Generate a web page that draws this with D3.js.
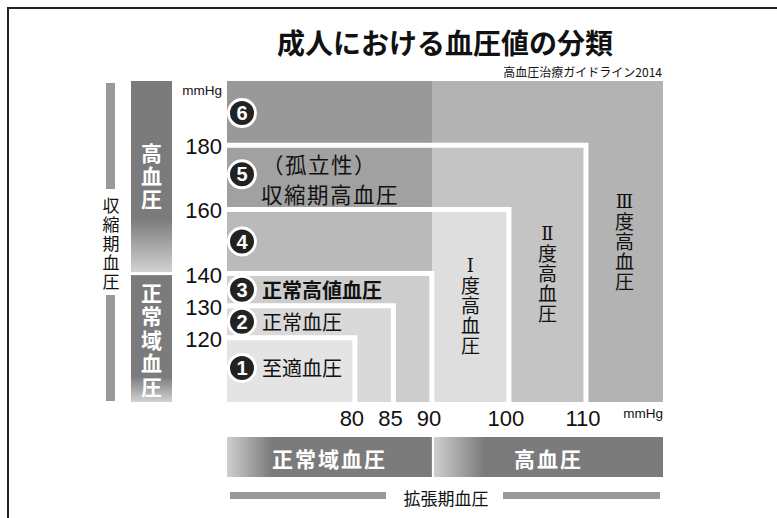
<!DOCTYPE html>
<html>
<head>
<meta charset="utf-8">
<script src="https://cdn.jsdelivr.net/npm/d3@7"></script>
<style>
  body { margin: 0; background: #fff; }
  text { font-family: "Noto Sans CJK JP", "Noto Sans", sans-serif; }
  .num { font-family: "Liberation Sans", Arial, sans-serif; }
  .roman { font-family: "DejaVu Serif", "Liberation Serif", serif; }
  .vert { writing-mode: vertical-rl; text-orientation: upright; }
</style>
</head>
<body>
<script>
// systolic / diastolic tick values (mmHg)
var sysTicks = [120, 130, 140, 160, 180];
var diaTicks = [80, 85, 90, 100, 110];

// nested grade boxes: upper systolic bound, upper diastolic bound
var gradeIds = ["III", "II", "I", "c3", "c2", "c1"];
var gradeSys = [200, 180, 160, 140, 130, 120];
var gradeDia = [120, 110, 100, 90, 85, 80];

// isolated systolic hypertension bands (diastolic < 90)
var isoIds = ["c6", "c5", "c4"];
var isoSysLow = [180, 160, 140];
var isoSysHigh = [200, 180, 160];
var isoDiaMax = 90;

// numbered categories: circle number, systolic band
var catNums = [1, 2, 3, 4, 5, 6];
var catSysLow = [100, 120, 130, 140, 160, 180];
var catSysHigh = [120, 130, 140, 160, 180, 200];
var catNames = ["至適血圧", "正常血圧", "正常高値血圧", "", "（孤立性）|収縮期高血圧", ""];

// vertical column labels for grades I..III
var colRoman = ["Ⅰ", "Ⅱ", "Ⅲ"];
var colNames = ["度高血圧", "度高血圧", "度高血圧"];
var colDiaLow = [90, 100, 110];
var colDiaHigh = [100, 110, 120];
var colSysLow = [160, 180, 200];

var fills = {
  III: "#b3b3b3", II: "#c4c4c4", I: "#dedede",
  c6: "#999999", c5: "#a1a1a1", c4: "#bababa",
  c3: "#cdcdcd", c2: "#d9d9d9", c1: "#e4e4e4"
};

var W = 777, H = 518;
var svg = d3.select("body").append("svg")
  .attr("width", W).attr("height", H);

// frame
svg.append("path").attr("d", "M8,518 V8 H777")
  .attr("fill", "none").attr("stroke", "#222").attr("stroke-width", 2);

var x = d3.scaleLinear().domain([63.4, 120]).range([227, 663]);
var y = d3.scaleLinear().domain([100, 200]).range([402, 81]);

var defs = svg.append("defs");
function grad(id, x1, y1, x2, y2, stops) {
  var g = defs.append("linearGradient").attr("id", id)
    .attr("x1", x1).attr("y1", y1).attr("x2", x2).attr("y2", y2);
  stops.forEach(function (s) {
    g.append("stop").attr("offset", s[0]).attr("stop-color", s[1]);
  });
}
grad("gHigh", 0, 0, 0, 1, [[0, "#7b7b7b"], [0.72, "#7b7b7b"], [1, "#d2d2d2"]]);
grad("gNorm", 0, 0, 0, 1, [[0, "#7b7b7b"], [0.8, "#7b7b7b"], [1, "#d2d2d2"]]);
grad("gLeft", 0, 0, 1, 0, [[0, "#cfcfcf"], [0.22, "#7b7b7b"], [1, "#7b7b7b"]]);

// title
svg.append("text").attr("x", 445).attr("y", 54).attr("text-anchor", "middle")
  .attr("font-size", 28).attr("font-weight", 700).attr("fill", "#111")
  .text("成人における血圧値の分類");
svg.append("text").attr("x", 662).attr("y", 77).attr("text-anchor", "end")
  .attr("font-size", 12).attr("fill", "#111")
  .text("高血圧治療ガイドライン2014");

var plot = svg.append("g");

// grade fills (largest first)
plot.selectAll("rect.grade").data(gradeIds.slice(0, 3)).enter().append("rect")
  .attr("x", x.range()[0])
  .attr("y", function (d, i) { return y(gradeSys[i]); })
  .attr("width", function (d, i) { return x(gradeDia[i]) - x.range()[0]; })
  .attr("height", function (d, i) { return y(100) - y(gradeSys[i]); })
  .attr("fill", function (d) { return fills[d]; });

plot.selectAll("rect.iso").data(isoIds).enter().append("rect")
  .attr("x", x.range()[0])
  .attr("y", function (d, i) { return y(isoSysHigh[i]); })
  .attr("width", x(isoDiaMax) - x.range()[0])
  .attr("height", function (d, i) { return y(isoSysLow[i]) - y(isoSysHigh[i]); })
  .attr("fill", function (d) { return fills[d]; });

plot.selectAll("rect.norm").data(gradeIds.slice(3)).enter().append("rect")
  .attr("x", x.range()[0])
  .attr("y", function (d, i) { return y(gradeSys[i + 3]); })
  .attr("width", function (d, i) { return x(gradeDia[i + 3]) - x.range()[0]; })
  .attr("height", function (d, i) { return y(100) - y(gradeSys[i + 3]); })
  .attr("fill", function (d) { return fills[d]; });

// white borders (top + right) of nested boxes
plot.selectAll("path.edge").data(gradeIds.slice(1)).enter().append("path")
  .attr("d", function (d, i) {
    var s = gradeSys[i + 1], v = gradeDia[i + 1];
    return "M" + x.range()[0] + "," + y(s) + "H" + x(v) + "V" + y(100);
  })
  .attr("fill", "none").attr("stroke", "#fff").attr("stroke-width", 5)
  .attr("stroke-linejoin", "miter");

// vertical text helper (one text element, top-to-bottom)
function vText(sel, txt, cx, cy, size, spacing, color, weight, roman) {
  var t = sel.append("text").attr("class", "vert")
    .attr("x", cx).attr("y", cy)
    .attr("text-anchor", "middle")
    .attr("font-size", size).attr("font-weight", weight || 400)
    .attr("letter-spacing", spacing).attr("fill", color);
  if (roman) t.append("tspan").attr("class", "roman").attr("font-size", size - 1).text(roman);
  t.append("tspan").text(txt);
  return t;
}

// vertical grade labels
colNames.forEach(function (name, i) {
  var cx = (x(colDiaLow[i]) + x(colDiaHigh[i])) / 2;
  var cy = (y(colSysLow[i]) + y(100)) / 2;
  vText(plot, name, cx, cy, 19, 1, "#111", 400, colRoman[i]);
});

// numbered circles and labels
var circX = 242;
catNums.forEach(function (n, i) {
  var cy = (y(catSysLow[i]) + y(catSysHigh[i])) / 2;
  if (n === 5) cy -= 3;
  if (n === 1) cy -= 2;
  var g = plot.append("g");
  g.append("circle").attr("cx", circX).attr("cy", cy).attr("r", 13.5)
    .attr("fill", "#222").attr("stroke", "#fff").attr("stroke-width", 3);
  g.append("text").attr("class", "num").attr("x", circX).attr("y", cy + 7)
    .attr("text-anchor", "middle").attr("font-size", 20).attr("font-weight", 700)
    .attr("fill", "#fff").text(n);
  var name = catNames[i];
  if (!name) return;
  if (name.indexOf("|") >= 0) {
    var parts = name.split("|");
    g.append("text").attr("x", 262).attr("y", cy - 11).attr("dominant-baseline", "central")
      .attr("font-size", 21.5).attr("letter-spacing", 1.5).attr("fill", "#111").text(parts[0]);
    g.append("text").attr("x", 261).attr("y", cy + 19).attr("dominant-baseline", "central")
      .attr("font-size", 21.5).attr("letter-spacing", 1.5).attr("fill", "#111").text(parts[1]);
  } else {
    g.append("text").attr("x", 262).attr("y", cy).attr("dominant-baseline", "central")
      .attr("font-size", 20).attr("font-weight", n === 3 ? 700 : 400)
      .attr("fill", "#111").text(name);
  }
});

// y axis tick labels
svg.selectAll("text.ytick").data(sysTicks).enter().append("text")
  .attr("class", "num").attr("x", 222).attr("y", function (d) { return y(d) + 9; })
  .attr("text-anchor", "end").attr("font-size", 22).attr("fill", "#111")
  .text(function (d) { return d; });
svg.append("text").attr("class", "num").attr("x", 222).attr("y", 95)
  .attr("text-anchor", "end").attr("font-size", 13.5).attr("fill", "#111").text("mmHg");

// x axis tick labels
svg.selectAll("text.xtick").data(diaTicks).enter().append("text")
  .attr("class", "num").attr("x", function (d) { return x(d) - 3; }).attr("y", 426)
  .attr("text-anchor", "middle").attr("font-size", 22).attr("fill", "#111")
  .text(function (d) { return d; });
svg.append("text").attr("class", "num").attr("x", 663).attr("y", 418)
  .attr("text-anchor", "end").attr("font-size", 13.5).attr("fill", "#111").text("mmHg");

// left category bars
var barX0 = 131, barX1 = 172;
svg.append("rect").attr("x", barX0).attr("y", y(200))
  .attr("width", barX1 - barX0).attr("height", y(140) - 1.5 - y(200)).attr("fill", "url(#gHigh)");
svg.append("rect").attr("x", barX0).attr("y", y(140) + 1.5)
  .attr("width", barX1 - barX0).attr("height", y(100) - y(140) - 1.5).attr("fill", "url(#gNorm)");
vText(svg, "高血圧", (barX0 + barX1) / 2, 177, 21, 2, "#fff", 700);
vText(svg, "正常域血圧", (barX0 + barX1) / 2, 341, 21, 2.5, "#fff", 700);

// outer systolic label
svg.append("rect").attr("x", 106).attr("y", 83).attr("width", 9).attr("height", 106).attr("fill", "#999");
svg.append("rect").attr("x", 106).attr("y", 295).attr("width", 9).attr("height", 106).attr("fill", "#999");
vText(svg, "収縮期血圧", 111, 245, 17, 2, "#111");

// bottom category bars
svg.append("rect").attr("x", x.range()[0]).attr("y", 437)
  .attr("width", x(90) - x.range()[0]).attr("height", 40).attr("fill", "url(#gLeft)");
svg.append("rect").attr("x", x(90) + 2).attr("y", 437)
  .attr("width", x.range()[1] - x(90) - 2).attr("height", 40).attr("fill", "url(#gLeft)");
svg.append("text").attr("x", (x.range()[0] + x(90)) / 2).attr("y", 458)
  .attr("text-anchor", "middle").attr("dominant-baseline", "central")
  .attr("font-size", 21).attr("font-weight", 700).attr("letter-spacing", 2)
  .attr("fill", "#fff").text("正常域血圧");
svg.append("text").attr("x", (x(90) + x.range()[1]) / 2 + 1).attr("y", 458)
  .attr("text-anchor", "middle").attr("dominant-baseline", "central")
  .attr("font-size", 21).attr("font-weight", 700).attr("letter-spacing", 2)
  .attr("fill", "#fff").text("高血圧");

// outer diastolic label
svg.append("rect").attr("x", 230).attr("y", 492).attr("width", 156).attr("height", 7).attr("fill", "#999");
svg.append("rect").attr("x", 503).attr("y", 492).attr("width", 157).attr("height", 7).attr("fill", "#999");
svg.append("text").attr("x", 446).attr("y", 497).attr("text-anchor", "middle")
  .attr("dominant-baseline", "central").attr("font-size", 17).attr("fill", "#111")
  .text("拡張期血圧");
</script>
</body>
</html>
